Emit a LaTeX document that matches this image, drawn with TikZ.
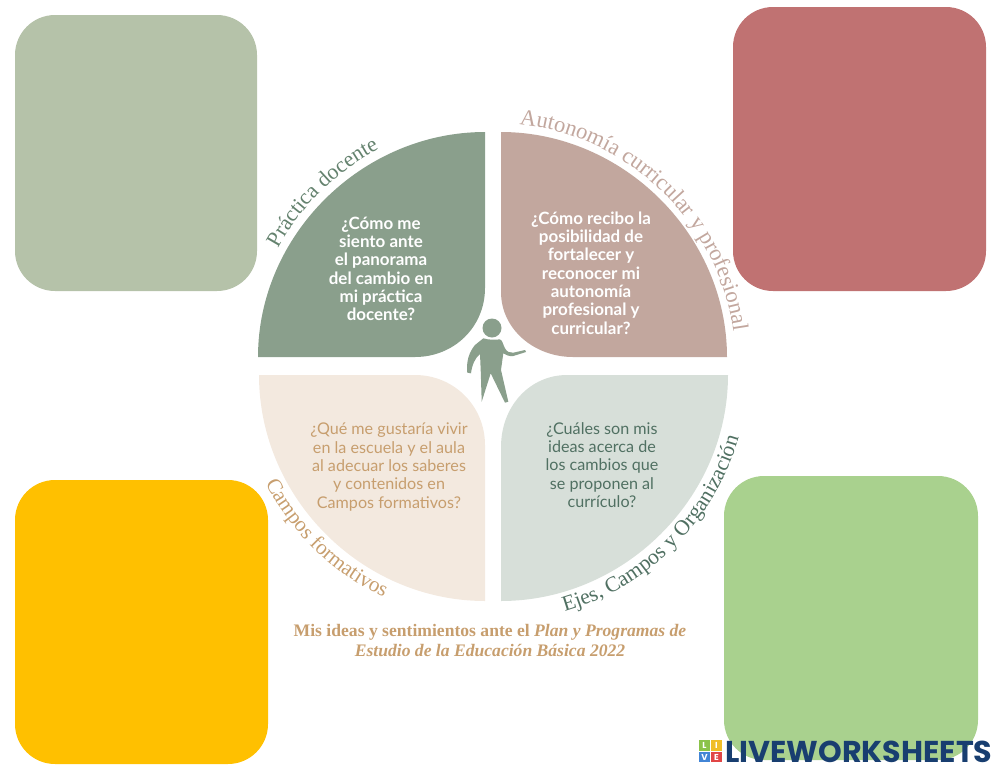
\documentclass[tikz,border=0pt]{standalone}
\usepackage{fontspec}
\setmainfont{Liberation Serif}
\newfontfamily\questfont{Lato}
\newfontfamily\logofont{Poppins}
\usetikzlibrary{decorations.text}
\definecolor{cpractica}{RGB}{138,159,140}
\definecolor{cautonomia}{RGB}{194,167,158}
\definecolor{ccampos}{RGB}{243,233,223}
\definecolor{cejes}{RGB}{215,223,217}
\definecolor{tcampos}{RGB}{199,158,110}
\definecolor{tejes}{RGB}{80,112,98}
\definecolor{tpractica}{RGB}{100,130,110}
\definecolor{logoblue}{RGB}{24,62,112}
\tikzset{
  question/.style={align=center,inner sep=0pt,font=\questfont\fontsize{12.1}{13.7}\selectfont},
  questionb/.style={align=center,inner sep=0pt,text=white,font=\questfont\bfseries\fontsize{12.7}{13.7}\selectfont},
  block/.style={rounded corners=30pt},
  arctext/.style={decorate,decoration={text along path,text align=center}},
  logobox/.style={inner sep=0pt,minimum width=8.4pt,minimum height=7.8pt,text=white,font=\logofont\bfseries\fontsize{6.5}{6.5}\selectfont}
}
\begin{document}
\begin{tikzpicture}[x=0.75pt,y=0.75pt,yscale=-1,xscale=1]
\useasboundingbox (0,0) rectangle (1000,772);

%corner blocks
\fill [block,color={rgb, 255:red, 181; green, 194; blue, 169 }] (15,15) rectangle (257,291);
\fill [block,color={rgb, 255:red, 192; green, 114; blue, 114 }] (733,7) rectangle (986,291);
\fill [block,color={rgb, 255:red, 255; green, 192; blue, 0 }] (15,480) rectangle (268,764);
\fill [block,color={rgb, 255:red, 169; green, 209; blue, 142 }] (724,476) rectangle (978,760);

%quarters
\fill [cpractica] (258,357) .. controls (258,235) and (362,132) .. (485,132) -- (485,288) .. controls (485,327) and (454,357) .. (415,357) -- cycle;
\fill [cautonomia] (727,357) .. controls (727,235) and (623,132) .. (501,132) -- (501,292) .. controls (501,329) and (534,357) .. (573,357) -- cycle;
\fill [ccampos] (259,375) .. controls (259,498) and (362,601) .. (485,601) -- (485,445) .. controls (485,406) and (454,375) .. (415,375) -- cycle;
\fill [cejes] (728,375) .. controls (728,498) and (624,601) .. (501,601) -- (501,447) .. controls (501,406) and (530,375) .. (567,375) -- cycle;

%person
\fill [cpractica] (492,328) circle [radius=9.5];
\fill [cpractica] (483.3,338.3) .. controls (489,340) and (495,340) .. (500,339.3) .. controls (503,341) and (503,345) .. (505,348.3) .. controls (507,352) and (510,353) .. (513.3,352.7) -- (525,350) -- (526,352) -- (513.3,356) .. controls (509,356.5) and (506,355) .. (503.3,353.3) -- (501,370) -- (508.3,401.7) -- (505,402.7) -- (490.7,373.3) -- (481.7,401.7) -- (480.7,370) -- (480,354) .. controls (475,358) and (472,365) .. (471,373.3) -- (467.3,372.7) .. controls (466,362) and (469,352) .. (475,345) -- cycle;

%curved labels
\path [arctext,decoration={text={|\fontsize{16.4}{16.4}\selectfont\color{tpractica}|Práctica docente}}]
  (493,366) ++(-152:245) arc [start angle=-152,end angle=-117,radius=245];
\path [arctext,decoration={text={|\fontsize{17}{17}\selectfont\color{cautonomia}|Autonomía curricular y profesional}}]
  (493,366) ++(-85:243) arc [start angle=-85,end angle=-7,radius=243];
\path [arctext,decoration={text={|\fontsize{16}{16}\selectfont\color{tcampos}|Campos formativos}}]
  (493,366) ++(154:256) arc [start angle=154,end angle=114,radius=256];
\path [arctext,decoration={text={|\fontsize{16.2}{16.2}\selectfont\color{tejes}|Ejes, Campos y Organización}}]
  (493,366) ++(75:256) arc [start angle=75,end angle=15,radius=256];

%questions
\node (qpractica) at (381,269) [questionb] {¿Cómo me\\\bfseries siento ante\\\bfseries el panorama\\\bfseries del cambio en\\\bfseries mi práctica\\\bfseries docente?};
\node (qautonomia) at (591,273) [questionb] {¿Cómo recibo la\\\bfseries posibilidad de\\\bfseries fortalecer y\\\bfseries reconocer mi\\\bfseries autonomía\\\bfseries profesional y\\\bfseries curricular?};
\node (qcampos) at (389,467) [question,text=tcampos] {¿Qué me gustaría vivir\\en la escuela y el aula\\al adecuar los saberes\\y contenidos en\\Campos formativos?};
\node (qejes) at (602,465) [question,text=tejes] {¿Cuáles son mis\\ideas acerca de\\los cambios que\\se proponen al\\currículo?};

%caption
\node (caption) at (490,640) [align=center,inner sep=0pt,text=tcampos,font=\bfseries\fontsize{13.2}{15}\selectfont] {Mis ideas y sentimientos ante el \textit{Plan y Programas de}\\\textit{Estudio de la Educación Básica 2022}};

%logo
\node (logoL) at (704.5,745.5) [logobox,fill={rgb, 255:red, 139; green, 195; blue, 74 }] {L};
\node (logoI) at (716.5,745.5) [logobox,fill={rgb, 255:red, 240; green, 190; blue, 40 }] {I};
\node (logoV) at (704.5,757) [logobox,fill={rgb, 255:red, 66; green, 133; blue, 214 }] {V};
\node (logoE) at (716.5,757) [logobox,fill={rgb, 255:red, 225; green, 70; blue, 70 }] {E};
\node (logotext) at (725,751.5) [anchor=west,inner sep=0pt,text=logoblue,font=\logofont\bfseries\fontsize{22.6}{22.6}\selectfont] {LIVEWORKSHEETS};
\end{tikzpicture}
\end{document}
